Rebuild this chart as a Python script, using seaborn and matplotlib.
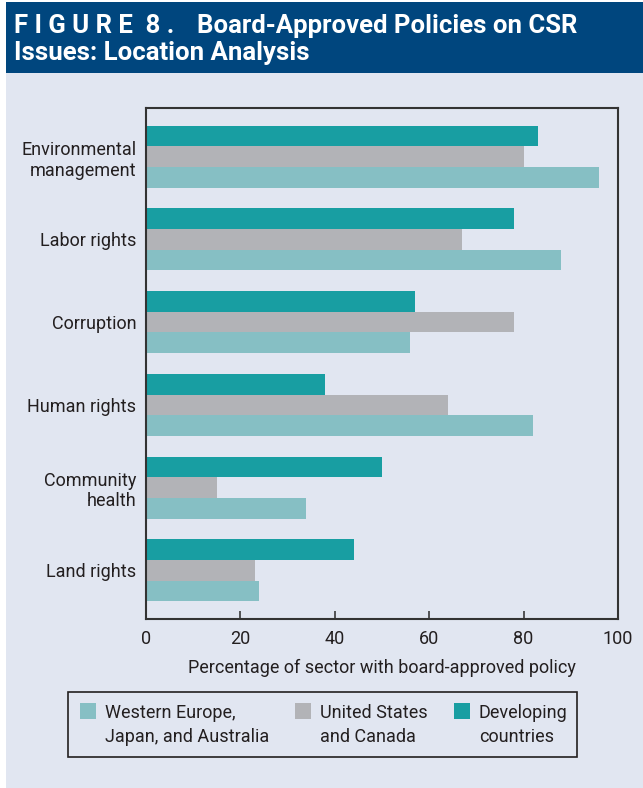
import matplotlib
matplotlib.use("Agg")
import matplotlib.pyplot as plt
from matplotlib import font_manager
from matplotlib.font_manager import FontProperties
from matplotlib.patches import Rectangle
import seaborn as sns
import pandas as pd

# ---- data -------------------------------------------------------------
issues = ["Environmental\nmanagement", "Labor rights", "Corruption",
          "Human rights", "Community\nhealth", "Land rights"]
regions = ["Western Europe,\nJapan, and Australia",
           "United States\nand Canada",
           "Developing\ncountries"]
western_europe = [96, 88, 56, 82, 34, 24]
us_canada = [80, 67, 78, 64, 15, 23]
developing = [83, 78, 57, 38, 50, 44]
x_ticks = [0, 20, 40, 60, 80, 100]

region_colors = {regions[0]: "#86BFC4", regions[1]: "#B2B3B7", regions[2]: "#189EA2"}

# ---- fonts ------------------------------------------------------------
def available(family, **kw):
    try:
        font_manager.findfont(FontProperties(family=family, **kw), fallback_to_default=False)
        return True
    except ValueError:
        return False

narrow = "Liberation Sans Narrow" if available("Liberation Sans Narrow") else "Roboto"
TEXT = "#231F20"
BG = "#E1E6F1"
BANNER = "#00467E"

sns.set_theme(style="white")
plt.rcParams["font.family"] = [narrow, "DejaVu Sans"]

# ---- figure -----------------------------------------------------------
W, H = 643, 788
fig = plt.figure(figsize=(W / 100, H / 100), dpi=100, facecolor="white")

def fx(px):
    return px / W

def fy(py):
    return 1 - py / H

# panel background and title banner
fig.patches.append(Rectangle((fx(6), 0), 1 - fx(6), fy(73), transform=fig.transFigure,
                             facecolor=BG, edgecolor="none", zorder=-10))
fig.patches.append(Rectangle((fx(6), fy(73)), 1 - fx(6), fy(2) - fy(73), transform=fig.transFigure,
                             facecolor=BANNER, edgecolor="none", zorder=-10))
title_kw = dict(color="white", fontsize=18.5, fontweight="bold", ha="left", va="baseline")
fig.text(fx(14), fy(33), "F I G U R E  8 .", **title_kw)
fig.text(fx(197), fy(33), "Board-Approved Policies on CSR", **title_kw)
fig.text(fx(14), fy(60), "Issues: Location Analysis", **title_kw)

ax = fig.add_axes([fx(146), fy(619), fx(618) - fx(146), fy(108) - fy(619)])
ax.set_facecolor(BG)

df = pd.DataFrame({
    "issue": issues * 3,
    "region": [regions[0]] * 6 + [regions[1]] * 6 + [regions[2]] * 6,
    "value": western_europe + us_canada + developing,
})

sns.barplot(data=df, y="issue", x="value", hue="region", order=issues,
            hue_order=[regions[2], regions[1], regions[0]], palette=region_colors,
            orient="h", width=0.75, gap=0, saturation=1, linewidth=0,
            errorbar=None, legend=False, ax=ax)

ax.set_xlim(0, 100)
ax.set_ylim(5.59, -0.59)
ax.set_xticks(x_ticks)
ax.set_xticklabels([str(t) for t in x_ticks])
ax.tick_params(axis="x", direction="in", length=6, width=1.2, color="#3A3A3A",
               labelsize=13, labelcolor=TEXT, pad=8, bottom=True)
ax.tick_params(axis="y", length=0, labelsize=13, labelcolor=TEXT, pad=7)
ax.set_xlabel("Percentage of sector with board-approved policy", fontsize=13,
              color=TEXT, labelpad=8)
ax.set_ylabel("")
for s in ax.spines.values():
    s.set_visible(True)
    s.set_color("#333333")
    s.set_linewidth(1.5)

# ---- key box ----------------------------------------------------------
fig.patches.append(Rectangle((fx(68), fy(757)), fx(577) - fx(68), fy(692) - fy(757),
                             transform=fig.transFigure, facecolor=BG, edgecolor=TEXT,
                             linewidth=1.2, zorder=1))
key_x = [80, 295, 454]
for x0, name in zip(key_x, regions):
    fig.patches.append(Rectangle((fx(x0), fy(719)), fx(16), fy(703) - fy(719),
                                 transform=fig.transFigure, facecolor=region_colors[name],
                                 edgecolor="none", zorder=2))
    fig.text(fx(x0 + 25), fy(725), name, fontsize=13, color=TEXT, ha="left",
             va="center", linespacing=1.4, zorder=3)

fig.savefig("out.png", dpi=100, facecolor="white")
